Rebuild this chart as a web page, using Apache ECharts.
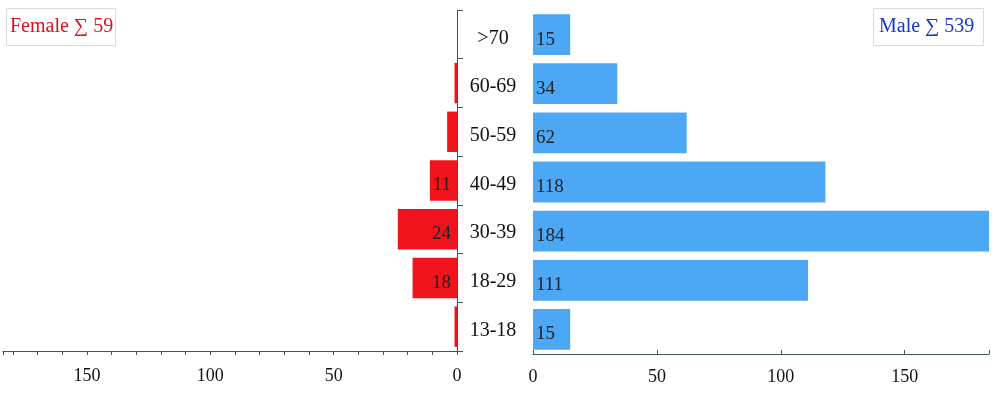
<!DOCTYPE html>
<html><head><meta charset="utf-8">
<script src="https://cdn.jsdelivr.net/npm/echarts@6/dist/echarts.min.js"></script>
<style>html,body{margin:0;padding:0;background:#fff}#c{width:1000px;height:394px}</style>
</head><body><div id="c"></div>
<script>
const categories = ['13-18', '18-29', '30-39', '40-49', '50-59', '60-69', '>70'];
const female = [1, 18, 24, 11, 4, 1, 0];
const male = [15, 111, 184, 118, 62, 34, 15];
const femaleTitle = 'Female ∑ 59';
const maleTitle = 'Male ∑ 539';

const FONT = 'Liberation Serif';
const axisCol = '#3f5656';
const chart = echarts.init(document.getElementById('c'), null, {renderer: 'canvas'});
chart.setOption({
  animation: false,
  backgroundColor: '#ffffff',
  grid: [
    {left: 2, right: 543, top: 10, bottom: 43},
    {left: 533, right: 11, top: 10, bottom: 40}
  ],
  xAxis: [
    {gridIndex: 0, type: 'value', inverse: true, min: 0, max: 184, interval: 10,
     splitLine: {show: false},
     axisLine: {show: true, lineStyle: {color: axisCol, width: 1}},
     axisTick: {show: true, length: 4, lineStyle: {color: axisCol}},
     axisLabel: {fontFamily: FONT, fontSize: 18, color: '#111', margin: 16,
       formatter: v => (v % 50 === 0 ? String(v) : '')}},
    {gridIndex: 1, type: 'value', min: 0, max: 184, interval: 50,
     splitLine: {show: false},
     axisLine: {show: true, lineStyle: {color: axisCol, width: 1}},
     axisTick: {show: true, inside: true, length: 4, lineStyle: {color: axisCol}},
     axisLabel: {fontFamily: FONT, fontSize: 18, color: '#111', margin: 14,
       formatter: v => (v % 50 === 0 ? String(v) : '')}}
  ],
  yAxis: [
    {gridIndex: 0, type: 'category', data: categories, position: 'right',
     axisLine: {show: true, lineStyle: {color: axisCol, width: 1}},
     axisTick: {show: true, length: 6, lineStyle: {color: axisCol}},
     axisLabel: {fontFamily: FONT, fontSize: 20, color: '#111', align: 'center', margin: 36,
       verticalAlign: 'top', lineHeight: 8}},
    {gridIndex: 1, type: 'category', data: categories,
     axisLine: {show: false}, axisTick: {show: false}, axisLabel: {show: false}}
  ],
  series: [
    {type: 'bar', xAxisIndex: 0, yAxisIndex: 0, data: female, barCategoryGap: '17%',
     itemStyle: {color: '#f2141c'},
     label: {show: true, position: 'insideRight', distance: 6, fontFamily: FONT, fontSize: 19, color: '#222',
       offset: [0, 5],
       formatter: p => (p.value >= 10 ? String(p.value) : '')}},
    {type: 'bar', xAxisIndex: 1, yAxisIndex: 1, data: male, barCategoryGap: '17%',
     itemStyle: {color: '#4ca7f5'},
     label: {show: true, position: 'insideLeft', distance: 3, fontFamily: FONT, fontSize: 19, color: '#222',
       offset: [0, 5]}}
  ],
  graphic: [
    {type: 'rect', left: 6, top: 8, shape: {width: 109, height: 37},
     style: {fill: '#fff', stroke: '#d3dde5', lineWidth: 1}},
    {type: 'text', left: 10, top: 17, style: {text: femaleTitle, fill: '#e0101c', font: '20px "' + FONT + '"'}},
    {type: 'rect', left: 873, top: 8, shape: {width: 110, height: 37},
     style: {fill: '#fff', stroke: '#d3dde5', lineWidth: 1}},
    {type: 'text', left: 879, top: 17, style: {text: maleTitle, fill: '#1438c4', font: '20px "' + FONT + '"'}}
  ]
});
</script></body></html>
